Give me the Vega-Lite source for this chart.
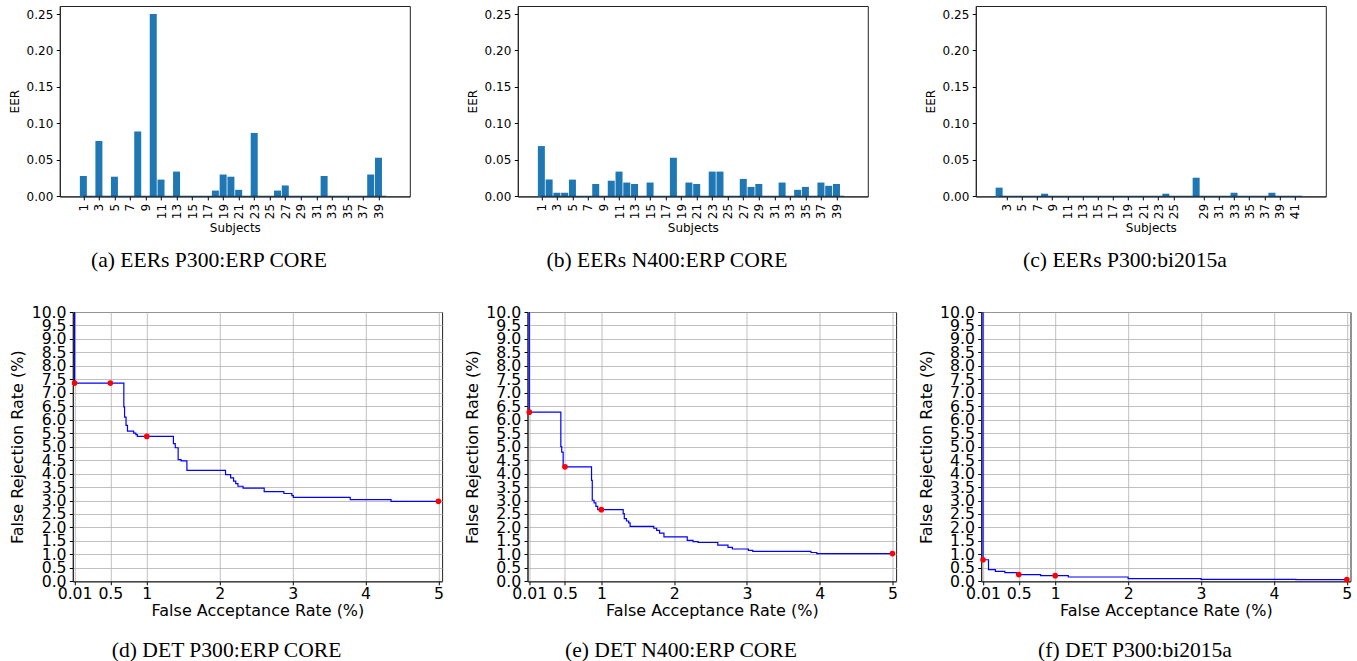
{
  "$schema": "https://vega.github.io/schema/vega-lite/v6.json",
  "padding": {"left": 6.8, "top": 5, "right": 0, "bottom": 0},
  "autosize": {"type": "pad"},
  "background": "white",
  "datasets": {
    "eerA": [
      {"subject": 1, "eer": 0.028}, {"subject": 2, "eer": 0}, {"subject": 3, "eer": 0.076}, {"subject": 4, "eer": 0},
      {"subject": 5, "eer": 0.027}, {"subject": 6, "eer": 0}, {"subject": 7, "eer": 0}, {"subject": 8, "eer": 0.089},
      {"subject": 9, "eer": 0}, {"subject": 10, "eer": 0.25}, {"subject": 11, "eer": 0.023}, {"subject": 12, "eer": 0},
      {"subject": 13, "eer": 0.034}, {"subject": 14, "eer": 0}, {"subject": 15, "eer": 0}, {"subject": 16, "eer": 0},
      {"subject": 17, "eer": 0}, {"subject": 18, "eer": 0.008}, {"subject": 19, "eer": 0.030}, {"subject": 20, "eer": 0.027},
      {"subject": 21, "eer": 0.009}, {"subject": 22, "eer": 0}, {"subject": 23, "eer": 0.087}, {"subject": 24, "eer": 0},
      {"subject": 25, "eer": 0}, {"subject": 26, "eer": 0.008}, {"subject": 27, "eer": 0.015}, {"subject": 28, "eer": 0},
      {"subject": 29, "eer": 0}, {"subject": 30, "eer": 0}, {"subject": 31, "eer": 0}, {"subject": 32, "eer": 0.028},
      {"subject": 33, "eer": 0}, {"subject": 34, "eer": 0}, {"subject": 35, "eer": 0}, {"subject": 36, "eer": 0},
      {"subject": 37, "eer": 0}, {"subject": 38, "eer": 0.030}, {"subject": 39, "eer": 0.053}, {"subject": 40, "eer": 0}
    ],
    "eerB": [
      {"subject": 1, "eer": 0.069}, {"subject": 2, "eer": 0.023}, {"subject": 3, "eer": 0.005}, {"subject": 4, "eer": 0.005},
      {"subject": 5, "eer": 0.023}, {"subject": 6, "eer": 0}, {"subject": 7, "eer": 0}, {"subject": 8, "eer": 0.017},
      {"subject": 9, "eer": 0}, {"subject": 10, "eer": 0.0215}, {"subject": 11, "eer": 0.034}, {"subject": 12, "eer": 0.019},
      {"subject": 13, "eer": 0.017}, {"subject": 14, "eer": 0}, {"subject": 15, "eer": 0.019}, {"subject": 16, "eer": 0},
      {"subject": 17, "eer": 0}, {"subject": 18, "eer": 0.053}, {"subject": 19, "eer": 0}, {"subject": 20, "eer": 0.019},
      {"subject": 21, "eer": 0.017}, {"subject": 22, "eer": 0}, {"subject": 23, "eer": 0.034}, {"subject": 24, "eer": 0.034},
      {"subject": 25, "eer": 0}, {"subject": 26, "eer": 0}, {"subject": 27, "eer": 0.024}, {"subject": 28, "eer": 0.013},
      {"subject": 29, "eer": 0.017}, {"subject": 30, "eer": 0}, {"subject": 31, "eer": 0}, {"subject": 32, "eer": 0.019},
      {"subject": 33, "eer": 0}, {"subject": 34, "eer": 0.009}, {"subject": 35, "eer": 0.013}, {"subject": 36, "eer": 0},
      {"subject": 37, "eer": 0.019}, {"subject": 38, "eer": 0.0145}, {"subject": 39, "eer": 0.017}, {"subject": 40, "eer": 0}
    ],
    "eerC": [
      {"subject": 2, "eer": 0.012}, {"subject": 3, "eer": 0}, {"subject": 4, "eer": 0}, {"subject": 5, "eer": 0},
      {"subject": 6, "eer": 0}, {"subject": 7, "eer": 0}, {"subject": 8, "eer": 0.0037}, {"subject": 9, "eer": 0},
      {"subject": 10, "eer": 0}, {"subject": 11, "eer": 0}, {"subject": 12, "eer": 0}, {"subject": 13, "eer": 0},
      {"subject": 14, "eer": 0}, {"subject": 15, "eer": 0}, {"subject": 16, "eer": 0}, {"subject": 17, "eer": 0},
      {"subject": 18, "eer": 0}, {"subject": 19, "eer": 0}, {"subject": 20, "eer": 0}, {"subject": 21, "eer": 0},
      {"subject": 22, "eer": 0}, {"subject": 23, "eer": 0}, {"subject": 24, "eer": 0.0037}, {"subject": 25, "eer": 0},
      {"subject": 26, "eer": 0}, {"subject": 28, "eer": 0.0256}, {"subject": 29, "eer": 0}, {"subject": 30, "eer": 0},
      {"subject": 31, "eer": 0}, {"subject": 32, "eer": 0}, {"subject": 33, "eer": 0.005}, {"subject": 34, "eer": 0},
      {"subject": 35, "eer": 0}, {"subject": 36, "eer": 0}, {"subject": 37, "eer": 0}, {"subject": 38, "eer": 0.005},
      {"subject": 39, "eer": 0}, {"subject": 40, "eer": 0}, {"subject": 41, "eer": 0}, {"subject": 42, "eer": 0}
    ],
    "detD": [
      {"far": 0.01, "frr": 10}, {"far": 0.01, "frr": 7.36}, {"far": 0.685, "frr": 6.48}, {"far": 0.695, "frr": 6.10},
      {"far": 0.715, "frr": 5.79}, {"far": 0.735, "frr": 5.58}, {"far": 0.82, "frr": 5.50}, {"far": 0.85, "frr": 5.45},
      {"far": 0.87, "frr": 5.38}, {"far": 1.365, "frr": 5.11}, {"far": 1.39, "frr": 4.96}, {"far": 1.43, "frr": 4.52},
      {"far": 1.47, "frr": 4.47}, {"far": 1.55, "frr": 4.12}, {"far": 2.08, "frr": 3.96}, {"far": 2.15, "frr": 3.84},
      {"far": 2.19, "frr": 3.72}, {"far": 2.22, "frr": 3.63}, {"far": 2.25, "frr": 3.53}, {"far": 2.32, "frr": 3.46},
      {"far": 2.61, "frr": 3.33}, {"far": 2.88, "frr": 3.26}, {"far": 2.99, "frr": 3.18}, {"far": 3.01, "frr": 3.12},
      {"far": 3.79, "frr": 3.03}, {"far": 4.35, "frr": 2.97}, {"far": 5.0, "frr": 2.97}
    ],
    "detE": [
      {"far": 0.01, "frr": 10}, {"far": 0.01, "frr": 6.28}, {"far": 0.443, "frr": 5.0}, {"far": 0.455, "frr": 4.8},
      {"far": 0.475, "frr": 4.25}, {"far": 0.865, "frr": 3.75}, {"far": 0.875, "frr": 3.01}, {"far": 0.90, "frr": 2.91},
      {"far": 0.925, "frr": 2.78}, {"far": 0.95, "frr": 2.66}, {"far": 1.30, "frr": 2.51}, {"far": 1.315, "frr": 2.33},
      {"far": 1.345, "frr": 2.24}, {"far": 1.375, "frr": 2.17}, {"far": 1.395, "frr": 2.04}, {"far": 1.72, "frr": 1.97},
      {"far": 1.76, "frr": 1.89}, {"far": 1.80, "frr": 1.79}, {"far": 1.86, "frr": 1.65}, {"far": 2.18, "frr": 1.52},
      {"far": 2.26, "frr": 1.47}, {"far": 2.33, "frr": 1.44}, {"far": 2.60, "frr": 1.34}, {"far": 2.74, "frr": 1.26},
      {"far": 2.80, "frr": 1.20}, {"far": 3.02, "frr": 1.15}, {"far": 3.08, "frr": 1.11}, {"far": 3.88, "frr": 1.07},
      {"far": 3.96, "frr": 1.03}, {"far": 5.0, "frr": 1.03}
    ],
    "detF": [
      {"far": 0.01, "frr": 10}, {"far": 0.01, "frr": 0.80}, {"far": 0.085, "frr": 0.43}, {"far": 0.18, "frr": 0.37},
      {"far": 0.31, "frr": 0.32}, {"far": 0.47, "frr": 0.25}, {"far": 0.80, "frr": 0.21}, {"far": 1.18, "frr": 0.16},
      {"far": 2.0, "frr": 0.10}, {"far": 3.0, "frr": 0.074}, {"far": 4.3, "frr": 0.06}, {"far": 5.0, "frr": 0.06}
    ],
    "ptsD": [{"far": 0.01, "frr": 7.36}, {"far": 0.5, "frr": 7.36}, {"far": 1.0, "frr": 5.38}, {"far": 5.0, "frr": 2.97}],
    "ptsE": [{"far": 0.01, "frr": 6.28}, {"far": 0.5, "frr": 4.25}, {"far": 1.0, "frr": 2.66}, {"far": 5.0, "frr": 1.03}],
    "ptsF": [{"far": 0.01, "frr": 0.80}, {"far": 0.5, "frr": 0.25}, {"far": 1.0, "frr": 0.21}, {"far": 5.0, "frr": 0.06}]
  },
  "columns": 1,
  "spacing": 31,
  "concat": [
    {
      "bounds": "flush",
      "spacing": 108,
      "hconcat": [
        {
          "width": 350, "height": 190.4,
          "title": {"text": "(a) EERs P300:ERP CORE"},
          "data": {"name": "eerA"},
          "layer": [
            {"mark": {"type": "bar", "size": 7, "color": "#1f77b4"},
             "encoding": {
               "x": {"field": "subject", "type": "quantitative", "title": "Subjects",
                     "scale": {"domain": [-1.39, 42.39], "nice": false, "zero": false},
                     "axis": {"values": [1,3,5,7,9,11,13,15,17,19,21,23,25,27,29,31,33,35,37,39], "tickCount": 100, "format": "d", "labelAngle": -90}},
               "y": {"field": "eer", "type": "quantitative", "title": "EER",
                     "scale": {"domain": [0, 0.261], "nice": false},
                     "axis": {"values": [0,0.05,0.1,0.15,0.2,0.25], "tickCount": 100, "format": ".2f", "titlePadding": 5}}
             }},
            {"mark": {"type": "rule", "color": "#1b3a57", "strokeWidth": 1.2},
             "encoding": {
               "x": {"aggregate": "min", "field": "subject", "type": "quantitative", "title": "Subjects"},
               "x2": {"aggregate": "max", "field": "subject"},
               "y": {"datum": 0, "type": "quantitative"}
             }}
          ]
        },
        {
          "width": 350, "height": 190.4,
          "title": {"text": "(b) EERs N400:ERP CORE"},
          "data": {"name": "eerB"},
          "layer": [
            {"mark": {"type": "bar", "size": 7, "color": "#1f77b4"},
             "encoding": {
               "x": {"field": "subject", "type": "quantitative", "title": "Subjects",
                     "scale": {"domain": [-1.39, 42.39], "nice": false, "zero": false},
                     "axis": {"values": [1,3,5,7,9,11,13,15,17,19,21,23,25,27,29,31,33,35,37,39], "tickCount": 100, "format": "d", "labelAngle": -90}},
               "y": {"field": "eer", "type": "quantitative", "title": "EER",
                     "scale": {"domain": [0, 0.261], "nice": false},
                     "axis": {"values": [0,0.05,0.1,0.15,0.2,0.25], "tickCount": 100, "format": ".2f", "titlePadding": 5}}
             }},
            {"mark": {"type": "rule", "color": "#1b3a57", "strokeWidth": 1.2},
             "encoding": {
               "x": {"aggregate": "min", "field": "subject", "type": "quantitative", "title": "Subjects"},
               "x2": {"aggregate": "max", "field": "subject"},
               "y": {"datum": 0, "type": "quantitative"}
             }}
          ]
        },
        {
          "width": 350, "height": 190.4,
          "title": {"text": "(c) EERs P300:bi2015a"},
          "data": {"name": "eerC"},
          "layer": [
            {"mark": {"type": "bar", "size": 7, "color": "#1f77b4"},
             "encoding": {
               "x": {"field": "subject", "type": "quantitative", "title": "Subjects",
                     "scale": {"domain": [-0.42, 44.45], "nice": false, "zero": false},
                     "axis": {"values": [3,5,7,9,11,13,15,17,19,21,23,25,29,31,33,35,37,39,41], "tickCount": 100, "format": "d", "labelAngle": -90}},
               "y": {"field": "eer", "type": "quantitative", "title": "EER",
                     "scale": {"domain": [0, 0.261], "nice": false},
                     "axis": {"values": [0,0.05,0.1,0.15,0.2,0.25], "tickCount": 100, "format": ".2f", "titlePadding": 5}}
             }},
            {"mark": {"type": "rule", "color": "#1b3a57", "strokeWidth": 1.2},
             "encoding": {
               "x": {"aggregate": "min", "field": "subject", "type": "quantitative", "title": "Subjects"},
               "x2": {"aggregate": "max", "field": "subject"},
               "y": {"datum": 0, "type": "quantitative"}
             }}
          ]
        }
      ]
    },
    {
      "bounds": "flush",
      "spacing": 0,
      "hconcat": [
        {
          "width": 12.4, "height": 10,
          "data": {"values": []},
          "mark": {"type": "point", "opacity": 0},
          "view": {"stroke": null}
        },
        {
          "bounds": "flush",
          "spacing": 84.7,
          "hconcat": [
            {
              "width": 369.3, "height": 269.3,
              "title": {"text": "(d) DET P300:ERP CORE", "offset": 22},
              "layer": [
                {"data": {"name": "detD"},
                 "mark": {"type": "line", "color": "#0000ff", "strokeWidth": 1.2, "interpolate": "step-after", "clip": true},
                 "encoding": {
                   "x": {"field": "far", "type": "quantitative", "title": "False Acceptance Rate (%)",
                         "scale": {"domain": [-0.015, 5.05], "nice": false, "zero": false},
                         "axis": {"values": [0.01,0.5,1,2,3,4,5], "tickCount": 100, "format": "~g", "grid": true, "labelFontSize": 15.7, "titleFontSize": 16, "labelPadding": 2, "titlePadding": 1}},
                   "y": {"field": "frr", "type": "quantitative", "title": "False Rejection Rate (%)",
                         "scale": {"domain": [0, 10], "nice": false},
                         "axis": {"values": [0,0.5,1,1.5,2,2.5,3,3.5,4,4.5,5,5.5,6,6.5,7,7.5,8,8.5,9,9.5,10], "tickCount": 100, "format": ".1f", "grid": true, "labelFontSize": 15.7, "titleFontSize": 16, "labelPadding": 3.2, "titlePadding": 5.4}},
                   "order": {"value": null}
                 }},
                {"data": {"name": "ptsD"},
                 "mark": {"type": "circle", "color": "#ff0000", "size": 32, "opacity": 1},
                 "encoding": {
                   "x": {"field": "far", "type": "quantitative"},
                   "y": {"field": "frr", "type": "quantitative"}
                 }}
              ]
            },
            {
              "width": 368.6, "height": 269.3,
              "title": {"text": "(e) DET N400:ERP CORE", "offset": 22},
              "layer": [
                {"data": {"name": "detE"},
                 "mark": {"type": "line", "color": "#0000ff", "strokeWidth": 1.2, "interpolate": "step-after", "clip": true},
                 "encoding": {
                   "x": {"field": "far", "type": "quantitative", "title": "False Acceptance Rate (%)",
                         "scale": {"domain": [-0.015, 5.05], "nice": false, "zero": false},
                         "axis": {"values": [0.01,0.5,1,2,3,4,5], "tickCount": 100, "format": "~g", "grid": true, "labelFontSize": 15.7, "titleFontSize": 16, "labelPadding": 2, "titlePadding": 1}},
                   "y": {"field": "frr", "type": "quantitative", "title": "False Rejection Rate (%)",
                         "scale": {"domain": [0, 10], "nice": false},
                         "axis": {"values": [0,0.5,1,1.5,2,2.5,3,3.5,4,4.5,5,5.5,6,6.5,7,7.5,8,8.5,9,9.5,10], "tickCount": 100, "format": ".1f", "grid": true, "labelFontSize": 15.7, "titleFontSize": 16, "labelPadding": 3.2, "titlePadding": 5.4}},
                   "order": {"value": null}
                 }},
                {"data": {"name": "ptsE"},
                 "mark": {"type": "circle", "color": "#ff0000", "size": 32, "opacity": 1},
                 "encoding": {
                   "x": {"field": "far", "type": "quantitative"},
                   "y": {"field": "frr", "type": "quantitative"}
                 }}
              ]
            },
            {
              "width": 369.3, "height": 269.3,
              "title": {"text": "(f) DET P300:bi2015a", "offset": 22},
              "layer": [
                {"data": {"name": "detF"},
                 "mark": {"type": "line", "color": "#0000ff", "strokeWidth": 1.2, "interpolate": "step-after", "clip": true},
                 "encoding": {
                   "x": {"field": "far", "type": "quantitative", "title": "False Acceptance Rate (%)",
                         "scale": {"domain": [-0.015, 5.05], "nice": false, "zero": false},
                         "axis": {"values": [0.01,0.5,1,2,3,4,5], "tickCount": 100, "format": "~g", "grid": true, "labelFontSize": 15.7, "titleFontSize": 16, "labelPadding": 2, "titlePadding": 1}},
                   "y": {"field": "frr", "type": "quantitative", "title": "False Rejection Rate (%)",
                         "scale": {"domain": [0, 10], "nice": false},
                         "axis": {"values": [0,0.5,1,1.5,2,2.5,3,3.5,4,4.5,5,5.5,6,6.5,7,7.5,8,8.5,9,9.5,10], "tickCount": 100, "format": ".1f", "grid": true, "labelFontSize": 15.7, "titleFontSize": 16, "labelPadding": 3.2, "titlePadding": 5.4}},
                   "order": {"value": null}
                 }},
                {"data": {"name": "ptsF"},
                 "mark": {"type": "circle", "color": "#ff0000", "size": 32, "opacity": 1},
                 "encoding": {
                   "x": {"field": "far", "type": "quantitative"},
                   "y": {"field": "frr", "type": "quantitative"}
                 }}
              ]
            }
          ]
        }
      ]
    }
  ],
  "config": {
    "font": "DejaVu Sans",
    "view": {"stroke": "#222222", "strokeWidth": 1},
    "axis": {
      "labelFont": "DejaVu Sans", "titleFont": "DejaVu Sans", "labelFontSize": 12, "titleFontSize": 12,
      "labelColor": "#000000", "titleColor": "#000000", "titleFontWeight": "normal",
      "tickColor": "#000000", "tickSize": 3.5, "labelPadding": 3.5, "domainColor": "#222222", "domainWidth": 1,
      "grid": false, "gridColor": "#b0b0b0", "gridWidth": 0.8, "gridOpacity": 1,
      "labelOverlap": false, "labelFlush": false, "labelBound": false, "titlePadding": 4
    },
    "title": {"font": "Liberation Serif", "fontSize": 21.6, "fontWeight": "normal", "color": "#000000", "orient": "bottom", "frame": "bounds", "offset": 16}
  }
}
